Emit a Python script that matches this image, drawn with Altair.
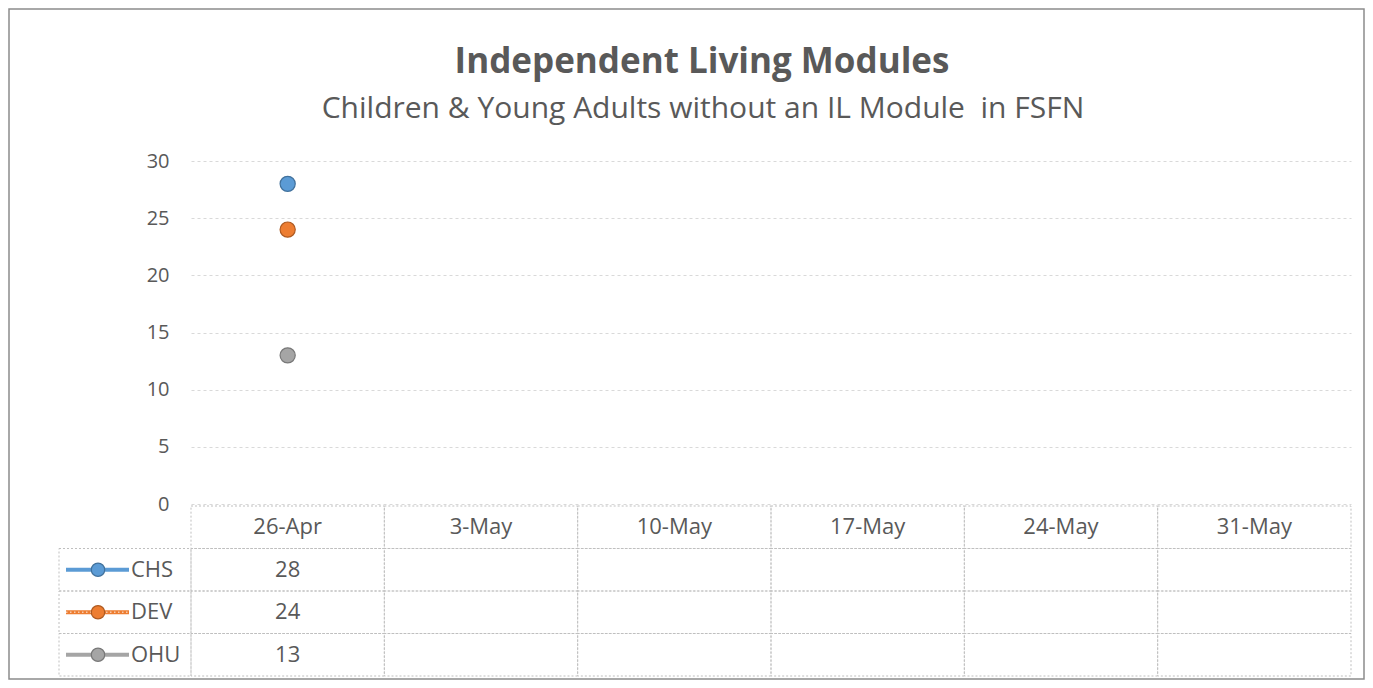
import altair as alt
import pandas as pd

title_text = "Independent Living Modules"
subtitle_text = "Children & Young Adults without an IL Module\u00a0 in FSFN"
dates = ["26-Apr", "3-May", "10-May", "17-May", "24-May", "31-May"]
series = ["CHS", "DEV", "OHU"]
chs = [28, None, None, None, None, None]
dev = [24, None, None, None, None, None]
ohu = [13, None, None, None, None, None]
colors = ["#5b9bd5", "#ed7d31", "#a5a5a5"]
edge_colors = ["#41719c", "#ae5a21", "#787878"]
y_ticks = [0, 5, 10, 15, 20, 25, 30]

FONT = "Open Sans"
TXT = "#595959"
W, H = 1160, 343

# long data
recs = []
for s, vals in zip(series, [chs, dev, ohu]):
    for d, v in zip(dates, vals):
        recs.append({"date": d, "series": s, "value": v})
df = pd.DataFrame(recs)
df_pts = df.dropna(subset=["value"])

row_domain = ["header"] + series
cells = []
for r in row_domain:
    for d in dates:
        cells.append({"date": d, "row": r})
df_cells = pd.DataFrame(cells)

texts = [{"date": d, "row": "header", "label": d} for d in dates]
for _, rr in df_pts.iterrows():
    texts.append({"date": rr["date"], "row": rr["series"], "label": str(int(rr["value"]))})
df_text = pd.DataFrame(texts)

df_leg = pd.DataFrame({"row": series, "series": series})


def row_scale():
    return alt.Scale(type="band", domain=row_domain, range=[345, 515], paddingInner=0, paddingOuter=0)


def date_band():
    return alt.Scale(type="band", domain=dates, paddingInner=0, paddingOuter=0)


fill_scale = alt.Scale(domain=series, range=colors)
edge_scale = alt.Scale(domain=series, range=edge_colors)

frame = alt.Chart(pd.DataFrame({"k": [0]})).mark_rect(
    fillOpacity=0, stroke="#8c8c8c", strokeWidth=1.5
).encode(x=alt.value(-182), x2=alt.value(1173), y=alt.value(-152), y2=alt.value(518))

title = alt.Chart(pd.DataFrame({"t": [title_text]})).mark_text(
    font=FONT, fontSize=35, fontWeight="bold", color=TXT, baseline="middle", align="center"
).encode(text="t:N", x=alt.value(511), y=alt.value(-99))

subtitle = alt.Chart(pd.DataFrame({"t": [subtitle_text]})).mark_text(
    font=FONT, fontSize=30, color=TXT, baseline="middle", align="center"
).encode(text="t:N", x=alt.value(512), y=alt.value(-52))

pts = alt.Chart(df_pts).mark_point(shape="circle", filled=True, size=230, opacity=1, strokeWidth=1.2).encode(
    x=alt.X("date:N", scale=alt.Scale(type="point", domain=dates, padding=0.5), axis=None),
    y=alt.Y(
        "value:Q",
        scale=alt.Scale(domain=[0, 30], nice=False),
        axis=alt.Axis(
            values=y_ticks, title=None, domain=False, ticks=False, labelPadding=22,
            labelFontSize=20, labelColor=TXT, labelFont=FONT,
            grid=True, gridColor="#d9d9d9", gridDash=[3, 3], gridWidth=1,
        ),
    ),
    fill=alt.Fill("series:N", scale=fill_scale, legend=None),
    stroke=alt.Stroke("series:N", scale=edge_scale, legend=None),
)

table_cells = alt.Chart(df_cells).mark_rect(
    fillOpacity=0, stroke="#bfbfbf", strokeDash=[2, 2], strokeWidth=1
).encode(
    x=alt.X("date:N", scale=date_band(), axis=None),
    y=alt.Y("row:N", scale=row_scale(), axis=None),
)

table_text = alt.Chart(df_text).mark_text(
    font=FONT, fontSize=22, color=TXT, baseline="middle", align="center"
).encode(
    x=alt.X("date:N", scale=date_band(), axis=None, bandPosition=0.5),
    y=alt.Y("row:N", scale=row_scale(), axis=None, bandPosition=0.5),
    text="label:N",
)

leg_cells = alt.Chart(df_leg).mark_rect(
    fillOpacity=0, stroke="#bfbfbf", strokeDash=[2, 2], strokeWidth=1
).encode(
    x=alt.value(-132), x2=alt.value(0),
    y=alt.Y("row:N", scale=row_scale(), axis=None),
)

leg_line = alt.Chart(df_leg).mark_rule(strokeWidth=4).encode(
    x=alt.value(-125), x2=alt.value(-62),
    y=alt.Y("row:N", scale=row_scale(), axis=None, bandPosition=0.5),
    color=alt.Color("series:N", scale=fill_scale, legend=None),
)

leg_dots = alt.Chart(df_leg).transform_filter(alt.datum.series == "DEV").mark_rule(
    strokeWidth=1.5, stroke="#f8cbad", strokeDash=[1.5, 2.5]
).encode(
    x=alt.value(-125), x2=alt.value(-62),
    y=alt.Y("row:N", scale=row_scale(), axis=None, bandPosition=0.5),
)

leg_pts = alt.Chart(df_leg).mark_point(shape="circle", filled=True, size=180, opacity=1, strokeWidth=1.2).encode(
    x=alt.value(-93),
    y=alt.Y("row:N", scale=row_scale(), axis=None, bandPosition=0.5),
    fill=alt.Fill("series:N", scale=fill_scale, legend=None),
    stroke=alt.Stroke("series:N", scale=edge_scale, legend=None),
)

leg_text = alt.Chart(df_leg).mark_text(
    font=FONT, fontSize=22, color=TXT, baseline="middle", align="left"
).encode(
    x=alt.value(-60),
    y=alt.Y("row:N", scale=row_scale(), axis=None, bandPosition=0.5),
    text="series:N",
)

chart = alt.layer(
    frame, title, subtitle, pts, table_cells, table_text,
    leg_cells, leg_line, leg_dots, leg_pts, leg_text,
).resolve_scale(x="independent", y="independent").properties(
    width=W, height=H, padding=0, background="white"
).configure(font=FONT).configure_view(stroke=None)

chart.save("out.html", embed_options={"renderer": "svg", "actions": False})
